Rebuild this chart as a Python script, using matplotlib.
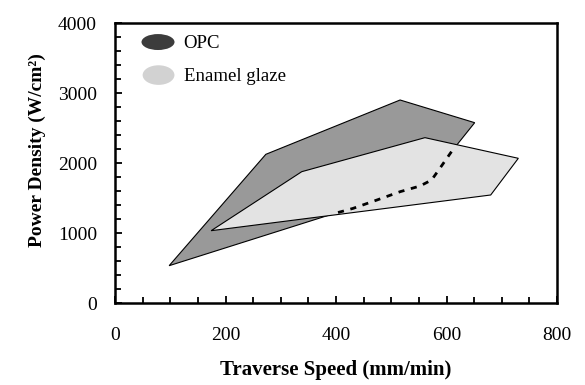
import matplotlib
matplotlib.use("Agg")
import matplotlib.pyplot as plt
from matplotlib.patches import Polygon, Ellipse
from matplotlib.ticker import MultipleLocator

plt.rcParams['font.family'] = ['Liberation Serif', 'DejaVu Serif']

# Data
opc_speed = [98, 273, 516, 651, 609, 588, 573, 552, 516, 474, 431, 392]
opc_power = [533, 2124, 2900, 2576, 2162, 1924, 1757, 1671, 1590, 1471, 1352, 1267]

glaze_speed = [174, 338, 561, 730, 680]
glaze_power = [1033, 1876, 2362, 2067, 1543]

boundary_speed = [609, 588, 573, 552, 516, 474, 431, 392]
boundary_power = [2162, 1924, 1757, 1671, 1590, 1471, 1352, 1267]

legend_labels = ["OPC", "Enamel glaze"]
x_ticks = [0, 200, 400, 600, 800]
y_ticks = [0, 1000, 2000, 3000, 4000]

fig = plt.figure(figsize=(5.85, 3.85), dpi=100)
ax = fig.add_axes([115/585, 82/385, 442/585, 280/385])

ax.add_patch(Polygon(list(zip(opc_speed, opc_power)), closed=True,
                     facecolor='#999999', edgecolor='black', linewidth=0.8, zorder=2))
ax.add_patch(Polygon(list(zip(glaze_speed, glaze_power)), closed=True,
                     facecolor='#e3e3e3', edgecolor='black', linewidth=0.8, zorder=3))
ax.plot(boundary_speed, boundary_power, color='black', linewidth=2.0,
        linestyle=(0, (2.2, 2.4)), zorder=4)

ax.set_xlim(0, 800)
ax.set_ylim(0, 4000)
ax.set_xticks(x_ticks)
ax.set_yticks(y_ticks)
ax.xaxis.set_minor_locator(MultipleLocator(50))
ax.yaxis.set_minor_locator(MultipleLocator(200))
ax.tick_params(which='both', direction='in', top=False, right=False,
               width=1.3, labelsize=14)
ax.tick_params(which='major', length=5)
ax.tick_params(which='minor', length=4)
ax.tick_params(axis='y', which='major', pad=13)
ax.tick_params(axis='x', which='major', pad=17)
for s in ax.spines.values():
    s.set_linewidth(1.8)

ax.set_xlabel("Traverse Speed (mm/min)", fontsize=15, fontweight='bold', labelpad=12)
ax.set_ylabel("Power Density (W/cm²)", fontsize=14, fontweight='bold')
ax.yaxis.set_label_coords(-0.155, 0.545)

# legend
ax.add_patch(Ellipse((0.0973, 0.932), 0.0747, 0.057, transform=ax.transAxes,
                     facecolor='#3c3c3c', edgecolor='none', zorder=5))
ax.add_patch(Ellipse((0.0985, 0.814), 0.072, 0.07, transform=ax.transAxes,
                     facecolor='#d2d2d2', edgecolor='none', zorder=5))
ax.text(0.155, 0.928, legend_labels[0], transform=ax.transAxes, fontsize=13.5,
        va='center', ha='left')
ax.text(0.155, 0.808, legend_labels[1], transform=ax.transAxes, fontsize=13.5,
        va='center', ha='left')

fig.savefig("out.png", dpi=100)
